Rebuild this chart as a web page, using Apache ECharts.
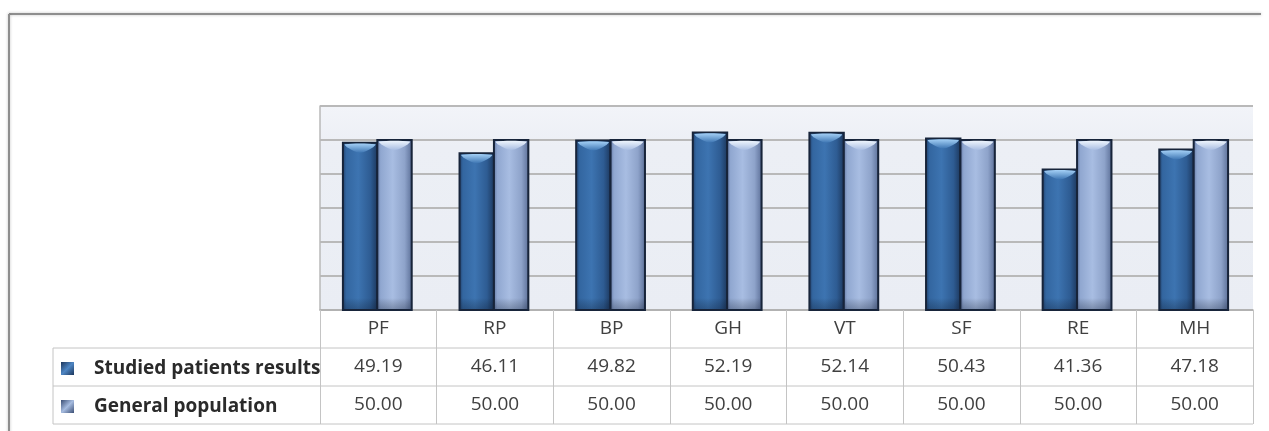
<!DOCTYPE html>
<html>
<head>
<meta charset="utf-8">
<script src="https://cdn.jsdelivr.net/npm/echarts@6/dist/echarts.min.js"></script>
<style>
  html, body { margin: 0; padding: 0; background: #ffffff; }
  #chart { width: 1269px; height: 431px; }
</style>
</head>
<body>
<div id="chart"></div>
<script>
// SF-36 domain scores: studied patients vs. general population norm
const categories = ['PF', 'RP', 'BP', 'GH', 'VT', 'SF', 'RE', 'MH'];
const studiedPatients = [49.19, 46.11, 49.82, 52.19, 52.14, 50.43, 41.36, 47.18];
const generalPopulation = [50.00, 50.00, 50.00, 50.00, 50.00, 50.00, 50.00, 50.00];
const seriesNames = ['Studied patients results', 'General population'];

// layout
const GRID_LEFT = 320, GRID_RIGHT_X = 1253, GRID_TOP = 106, GRID_BOTTOM_Y = 310;
const ROW_H = 38, TABLE_LEFT = 53;
const LINE_GREY = '#C4C4C4';
const TEXT_GREY = '#404040';
const FONT = '"Open Sans", "Liberation Sans", sans-serif';

const G = echarts.graphic;
const palettes = [
  { // dark blue bars
    face: [[0, '#1E3A62'], [0.12, '#3366A0'], [0.45, '#3D74B1'], [0.78, '#2E5C93'], [0.93, '#21416B'], [1, '#12233B']],
    cap: ['#A4D0F6', '#3E76B3'],
    legend: [[0, '#1C355A'], [0.5, '#4E86C4'], [1, '#1C355A']]
  },
  { // light blue bars
    face: [[0, '#5B709C'], [0.12, '#90A7D0'], [0.45, '#A8BDE2'], [0.78, '#8EA3CA'], [0.93, '#697DA5'], [1, '#2A3550']],
    cap: ['#EEF5FD', '#A8BDE2'],
    legend: [[0, '#3B4E74'], [0.5, '#A6BCE0'], [1, '#3B4E74']]
  }
];

function stops(arr) { return arr.map(([offset, color]) => ({ offset, color })); }

function renderBar(params, api) {
  const si = params.seriesIndex;
  const idx = api.value(0);
  const base = api.coord([idx, 0]);
  const top = api.coord([idx, api.value(1)]);
  const band = api.size([1, 0])[0];
  const w = band * 0.295;
  const x = base[0] - w + si * w - 1;
  const y = top[1];
  const h = base[1] - top[1];
  const p = palettes[si];
  return {
    type: 'group',
    children: [
      {
        type: 'rect',
        shape: { x: x, y: y, width: w, height: h },
        style: {
          fill: new G.LinearGradient(0, 0, 1, 0, stops(p.face)),
          stroke: '#17243A', lineWidth: 2
        }
      },
      {
        type: 'polygon',
        shape: {
          points: [[x + 2, y + 1.5], [x + w - 2, y + 1.5], [x + w - 5, y + 5], [x + w / 2, y + 10], [x + 5, y + 5]],
          smooth: 0.35
        },
        style: { fill: new G.LinearGradient(0, 0, 0, 1, [{ offset: 0, color: p.cap[0] }, { offset: 1, color: p.cap[1] }]) }
      },
      {
        type: 'rect',
        shape: { x: x + 1, y: base[1] - 12, width: w - 2, height: 11 },
        style: {
          fill: new G.LinearGradient(0, 0, 0, 1, [{ offset: 0, color: 'rgba(0,0,0,0)' }, { offset: 1, color: 'rgba(10,20,40,0.28)' }])
        }
      }
    ]
  };
}

function tableAxis(labels, offset, index) {
  return {
    type: 'category',
    data: labels,
    position: 'bottom',
    offset: offset,
    axisLine: { show: index === 0, lineStyle: { color: '#B0B0B0', width: 1.5 } },
    axisTick: { show: true, interval: 0, length: ROW_H, lineStyle: { color: LINE_GREY, width: 1 } },
    axisLabel: {
      interval: 0, margin: ROW_H / 2, verticalAlign: 'middle',
      fontFamily: FONT, fontSize: 19, color: TEXT_GREY
    },
    splitLine: { show: false }
  };
}

function legendRow(name, row) {
  return {
    data: [name],
    left: 61,
    top: GRID_BOTTOM_Y + ROW_H * row + ROW_H / 2 - 8,
    padding: 0,
    itemWidth: 13,
    itemHeight: 13,
    icon: 'rect',
    selectedMode: false,
    textStyle: {
      fontFamily: FONT, fontSize: 19, fontWeight: 'bold', color: '#2A2A2A',
      lineHeight: 16, padding: [0, 0, 0, 15]
    }
  };
}

const chart = echarts.init(document.getElementById('chart'), null, { renderer: 'canvas' });

const hLines = [1, 2, 3].map(k => ({
  type: 'line',
  shape: { x1: TABLE_LEFT, y1: GRID_BOTTOM_Y + k * ROW_H, x2: GRID_RIGHT_X, y2: GRID_BOTTOM_Y + k * ROW_H },
  style: { stroke: LINE_GREY, lineWidth: 1 }
}));

const frameStyle = { stroke: '#8E8E8E', lineWidth: 2, shadowBlur: 3, shadowColor: 'rgba(0,0,0,0.25)' };

chart.setOption({
  animation: false,
  backgroundColor: '#ffffff',
  grid: {
    left: GRID_LEFT, right: 1269 - GRID_RIGHT_X, top: GRID_TOP, bottom: 431 - GRID_BOTTOM_Y,
    show: true,
    backgroundColor: new G.LinearGradient(0, 0, 0, 1, [
      { offset: 0, color: '#F2F4F9' }, { offset: 0.2, color: '#ECEFF5' }, { offset: 1, color: '#EAEDF4' }
    ]),
    borderWidth: 0
  },
  legend: [legendRow(seriesNames[0], 1), legendRow(seriesNames[1], 2)],
  xAxis: [
    tableAxis(categories, 0, 0),
    tableAxis(studiedPatients.map(v => v.toFixed(2)), ROW_H, 1),
    tableAxis(generalPopulation.map(v => v.toFixed(2)), ROW_H * 2, 2)
  ],
  yAxis: {
    type: 'value', min: 0, max: 60, interval: 10,
    axisLine: { show: true, lineStyle: { color: '#B8B8B8', width: 1.5 } },
    axisTick: { show: false },
    axisLabel: { show: false },
    splitLine: { lineStyle: { color: '#B9B9B9', width: 2 } }
  },
  series: [
    {
      name: seriesNames[0], type: 'custom', xAxisIndex: 0,
      renderItem: renderBar, encode: { x: 0, y: 1 },
      itemStyle: { color: new G.LinearGradient(0, 0, 1, 1, stops(palettes[0].legend)) },
      data: categories.map((c, i) => [i, studiedPatients[i]])
    },
    {
      name: seriesNames[1], type: 'custom', xAxisIndex: 0,
      renderItem: renderBar, encode: { x: 0, y: 1 },
      itemStyle: { color: new G.LinearGradient(0, 0, 1, 1, stops(palettes[1].legend)) },
      data: categories.map((c, i) => [i, generalPopulation[i]])
    }
  ],
  graphic: [
    ...hLines,
    {
      type: 'line',
      shape: { x1: TABLE_LEFT, y1: GRID_BOTTOM_Y + ROW_H, x2: TABLE_LEFT, y2: GRID_BOTTOM_Y + 3 * ROW_H },
      style: { stroke: LINE_GREY, lineWidth: 1 }
    },
    // page frame: top and left edges
    { type: 'line', silent: true, shape: { x1: 9, y1: 14, x2: 1261, y2: 14 }, style: frameStyle },
    { type: 'line', silent: true, shape: { x1: 9, y1: 14, x2: 9, y2: 440 }, style: frameStyle }
  ]
});
</script>
</body>
</html>
